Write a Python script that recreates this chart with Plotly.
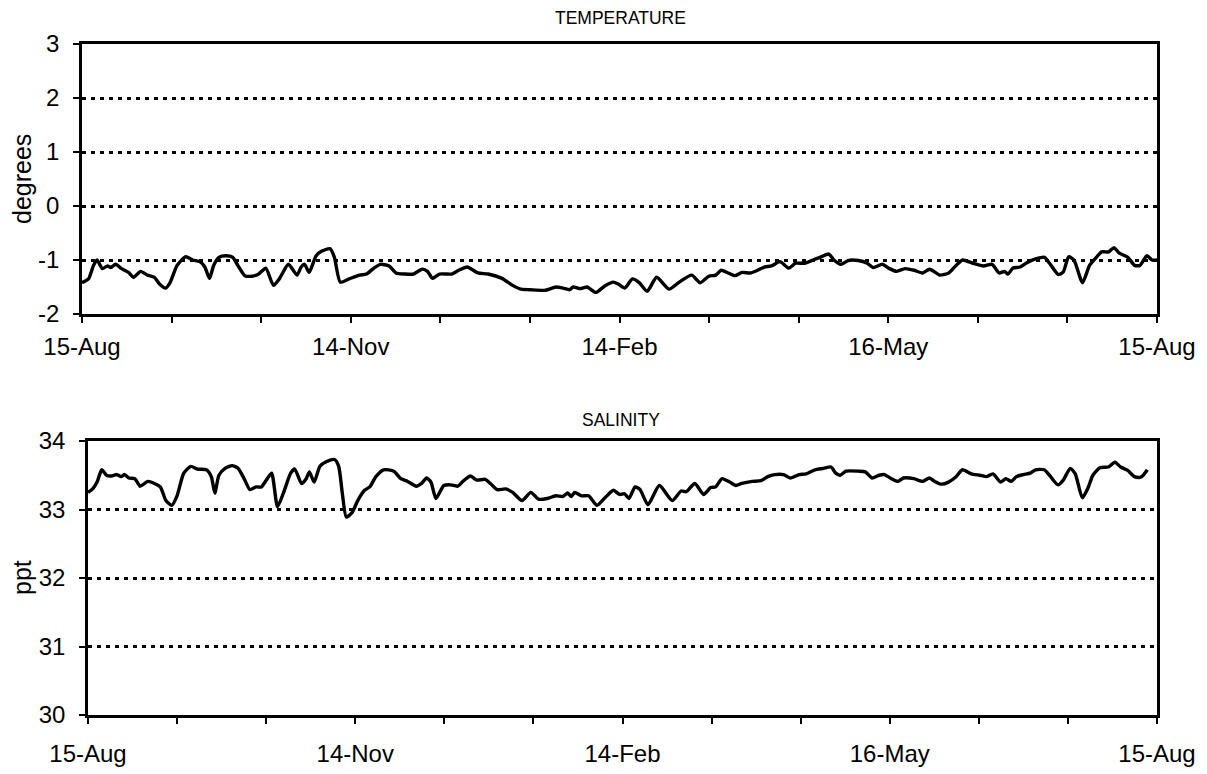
import plotly.graph_objects as go

# Daily record, 15-Aug to 15-Aug (day 0 .. 365)
temp_day = [0, 2.2, 3.9, 5.1, 6.9, 8.7, 9.8, 11.4, 13.4, 15.8, 17.5, 19.9, 22.2, 24.6, 26.4, 28.4,
            29.9, 32.3, 35.2, 37.6, 40.0, 41.7, 43.3, 44.7, 46.5, 48.8, 51.2, 52.9, 55.3, 57.7, 60.0,
            62.4, 65.0, 67.1, 70.1, 73.0, 74.4, 75.6, 77.1, 79.5, 81.3, 84.2, 85.7, 87.7, 90.7, 94.2,
            96.6, 98.9, 101.3, 104.3, 106.6, 109.6, 112.5, 115.5, 117.3, 119.0, 121.4, 125.5, 127.9,
            130.8, 134.4, 137.9, 142.6, 146.2, 149.1, 152.1, 157.4, 160.9, 163.3, 165.6, 166.8, 169.2,
            171.5, 174.5, 177.5, 180.4, 182.2, 184.3, 186.9, 189.2, 191.9, 195.1, 199.3, 202.8, 207.0,
            209.9, 212.8, 215.2, 217.0, 219.4, 221.7, 224.1, 227.0, 229.4, 231.7, 234.1, 237.0, 240.0,
            242.3, 245.3, 248.2, 250.6, 253.6, 255.3, 257.7, 260.1, 263.6, 266.6, 268.6, 271.8, 274.2,
            276.6, 279.5, 282.5, 285.4, 287.8, 291.3, 294.3, 296.6, 299.0, 302.5, 306.1, 309.0, 311.4,
            313.2, 314.4, 316.1, 318.5, 320.8, 323.8, 326.8, 328.5, 331.5, 333.2, 335.0, 336.8, 339.7,
            342.1, 344.4, 346.2, 348.6, 350.4, 352.1, 355.1, 357.4, 359.2, 361.6, 363.3, 365]
temp_deg = [-1.42, -1.35, -1.10, -1.00, -1.16, -1.11, -1.14, -1.08, -1.16, -1.23, -1.32, -1.21, -1.28,
            -1.32, -1.45, -1.52, -1.42, -1.10, -0.94, -1.00, -1.03, -1.13, -1.34, -1.10, -0.95, -0.92,
            -0.95, -1.10, -1.29, -1.30, -1.26, -1.15, -1.47, -1.34, -1.08, -1.28, -1.13, -1.08, -1.23,
            -0.92, -0.84, -0.79, -0.95, -1.41, -1.35, -1.28, -1.26, -1.16, -1.08, -1.11, -1.24, -1.26,
            -1.26, -1.17, -1.21, -1.34, -1.26, -1.26, -1.19, -1.13, -1.24, -1.26, -1.34, -1.47, -1.54,
            -1.55, -1.56, -1.50, -1.52, -1.55, -1.50, -1.53, -1.50, -1.60, -1.48, -1.41, -1.45, -1.52,
            -1.35, -1.42, -1.58, -1.32, -1.54, -1.41, -1.28, -1.42, -1.30, -1.28, -1.19, -1.24, -1.29,
            -1.23, -1.24, -1.19, -1.13, -1.11, -1.03, -1.15, -1.06, -1.06, -1.00, -0.95, -0.89, -1.00,
            -1.08, -1.01, -1.01, -1.06, -1.14, -1.08, -1.16, -1.21, -1.16, -1.19, -1.24, -1.17, -1.28,
            -1.24, -1.11, -1.00, -1.06, -1.11, -1.08, -1.24, -1.21, -1.26, -1.15, -1.13, -1.05, -0.98,
            -0.95, -1.06, -1.27, -1.22, -0.94, -1.00, -1.42, -1.10, -0.95, -0.85, -0.85, -0.77, -0.87,
            -0.95, -1.10, -1.10, -0.92, -1.00, -1.00]

sal_day = [0, 1.6, 3.1, 4.7, 6.3, 8.0, 9.8, 11.3, 12.5, 13.9, 16.0, 17.8, 20.4, 22.7, 24.7, 26.6, 28.6,
           30.4, 32.7, 35.1, 37.4, 40.4, 42.1, 43.3, 44.7, 46.8, 49.2, 51.3, 53.3, 55.3, 57.4, 59.2,
           60.9, 62.7, 64.7, 66.8, 69.2, 70.6, 72.9, 74.5, 75.6, 77.2, 79.2, 81.5, 84.2, 85.6, 86.8,
           88.2, 90.1, 92.1, 94.4, 96.2, 98.3, 100.9, 104.4, 106.8, 109.1, 112.1, 113.9, 115.6, 117.1,
           118.8, 121.5, 123.8, 126.2, 128.0, 130.6, 132.7, 135.6, 137.4, 139.7, 142.6, 145.0, 148.2,
           151.2, 153.8, 156.8, 159.7, 162.1, 163.8, 165.0, 166.2, 168.5, 170.9, 173.8, 176.7, 179.4,
           181.5, 183.2, 184.7, 186.8, 188.5, 191.2, 195.1, 199.5, 202.5, 204.3, 207.2, 210.2, 212.6,
           214.3, 216.5, 219.1, 221.2, 223.2, 226.8, 229.8, 232.1, 234.5, 237.5, 239.8, 242.8, 245.2,
           248.2, 251.1, 253.7, 255.3, 256.8, 258.8, 263.0, 265.4, 267.7, 270.1, 271.9, 274.3, 276.6,
           278.4, 282.0, 284.9, 287.3, 289.1, 291.5, 293.8, 296.2, 298.6, 301.6, 304.5, 306.9, 309.0,
           311.6, 313.4, 315.2, 317.0, 319.4, 321.7, 323.5, 326.5, 328.3, 331.2, 333.0, 335.4, 337.1,
           339.5, 341.5, 343.1, 345.5, 348.4, 350.6, 352.6, 355.0, 357.3, 359.2, 360.3, 361.7]
sal_ppt = [33.25, 33.30, 33.40, 33.58, 33.50, 33.49, 33.51, 33.48, 33.51, 33.46, 33.45, 33.34, 33.41,
           33.38, 33.33, 33.13, 33.06, 33.20, 33.53, 33.63, 33.59, 33.58, 33.48, 33.24, 33.50, 33.60,
           33.64, 33.60, 33.45, 33.29, 33.33, 33.33, 33.43, 33.53, 33.04, 33.25, 33.53, 33.59, 33.38,
           33.45, 33.55, 33.40, 33.63, 33.70, 33.73, 33.63, 33.25, 32.89, 32.95, 33.13, 33.28, 33.33,
           33.48, 33.58, 33.56, 33.45, 33.41, 33.34, 33.38, 33.46, 33.40, 33.16, 33.35, 33.36, 33.34,
           33.41, 33.49, 33.43, 33.44, 33.38, 33.29, 33.30, 33.25, 33.13, 33.25, 33.15, 33.16, 33.20,
           33.19, 33.24, 33.19, 33.25, 33.20, 33.20, 33.06, 33.18, 33.28, 33.22, 33.23, 33.16, 33.33,
           33.29, 33.07, 33.35, 33.13, 33.27, 33.26, 33.38, 33.22, 33.32, 33.33, 33.45, 33.40, 33.35,
           33.38, 33.41, 33.42, 33.48, 33.51, 33.51, 33.46, 33.51, 33.52, 33.58, 33.60, 33.62, 33.53,
           33.50, 33.56, 33.56, 33.55, 33.46, 33.50, 33.51, 33.45, 33.41, 33.46, 33.45, 33.41, 33.46,
           33.41, 33.37, 33.40, 33.47, 33.58, 33.52, 33.50, 33.48, 33.52, 33.40, 33.45, 33.41, 33.48,
           33.51, 33.53, 33.58, 33.58, 33.50, 33.36, 33.43, 33.60, 33.52, 33.17, 33.32, 33.50, 33.61,
           33.62, 33.69, 33.62, 33.57, 33.48, 33.47, 33.50, 33.58]

date_ticks = [0, 91.25, 182.5, 273.75, 365]
date_labels = ["15-Aug", "14-Nov", "14-Feb", "16-May", "15-Aug"]

temp_ticks = [-2, -1, 0, 1, 2, 3]
temp_labels = ["-2", "-1", "0", "1", "2", "3"]
sal_ticks = [30, 31, 32, 33, 34]
sal_labels = ["30", "31", "32", "33", "34"]

W, H = 1207, 774
FONT = "Liberation Sans, Arial, sans-serif"


def px_x(v):
    return v / W


def px_y(v):
    return 1 - v / H


line_style = dict(color="black", width=3.4)

fig = go.Figure()
fig.add_trace(go.Scatter(x=temp_day, y=temp_deg, mode="lines", line=line_style,
                         line_shape="spline", line_smoothing=0.6, xaxis="x", yaxis="y",
                         showlegend=False, hoverinfo="skip"))
fig.add_trace(go.Scatter(x=sal_day, y=sal_ppt, mode="lines", line=line_style,
                         line_shape="spline", line_smoothing=0.6, xaxis="x2", yaxis="y2",
                         showlegend=False, hoverinfo="skip"))

tick_font = dict(family=FONT, size=24, color="black")


def date_axis(left_px, anchor, standoff):
    return dict(
        domain=[px_x(left_px), px_x(1157)], anchor=anchor, range=[0, 365],
        tickmode="array", tickvals=date_ticks, ticktext=date_labels,
        ticks="outside", ticklen=6, tickwidth=2, tickcolor="black",
        minor=dict(dtick=365 / 12, tick0=0, ticks="outside", ticklen=6,
                   tickwidth=2, tickcolor="black", showgrid=False),
        showline=True, linecolor="black", linewidth=2.5, mirror=True,
        showgrid=False, zeroline=False, tickfont=tick_font,
        ticklabelstandoff=standoff, automargin=False,
    )


def value_axis(top_px, bottom_px, anchor, rng, vals, labels):
    return dict(
        domain=[px_y(bottom_px), px_y(top_px)], anchor=anchor, range=rng,
        tickmode="array", tickvals=vals, ticktext=labels,
        ticks="outside", ticklen=6, tickwidth=2, tickcolor="black",
        showline=True, linecolor="black", linewidth=2.5, mirror=True,
        showgrid=True, gridcolor="black", gridwidth=2.5, griddash="4px,5px",
        zeroline=False, tickfont=tick_font, ticklabelstandoff=9, automargin=False,
    )


def label(text, x, y, size, angle=0):
    return dict(text=text, x=px_x(x), y=px_y(y), xref="paper", yref="paper",
                xanchor="center", yanchor="middle", showarrow=False, textangle=angle,
                font=dict(family=FONT, size=size, color="black"))


fig.update_layout(
    width=W, height=H, margin=dict(l=0, r=0, t=0, b=0, autoexpand=False),
    paper_bgcolor="white", plot_bgcolor="white",
    xaxis=date_axis(82, "y", 3),
    yaxis=value_axis(44, 314, "x", [-2, 3], temp_ticks, temp_labels),
    xaxis2=date_axis(88, "y2", 9),
    yaxis2=value_axis(441, 715, "x2", [30, 34], sal_ticks, sal_labels),
    annotations=[
        label("TEMPERATURE", 620, 18, 17.5),
        label("SALINITY", 621, 420, 17.5),
        label("degrees", 22, 179, 25, -90),
        label("ppt", 22, 578, 25, -90),
    ],
)

fig.write_html("out.html")
